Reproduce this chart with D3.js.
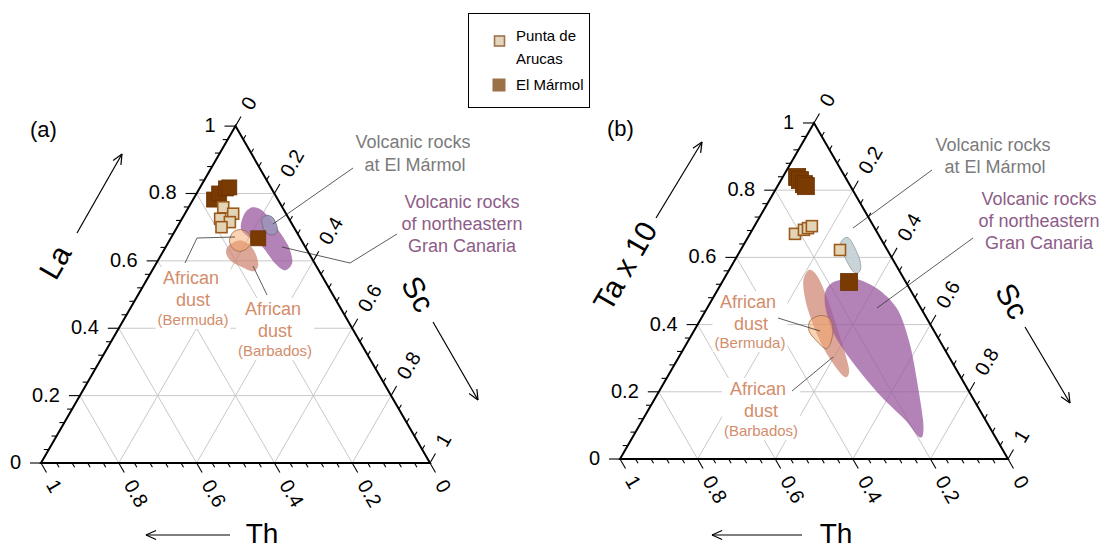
<!DOCTYPE html>
<html>
<head>
<meta charset="utf-8">
<script src="https://cdn.jsdelivr.net/npm/d3@7"></script>
<style>
  body { margin: 0; background: #fff; }
  text { font-family: "Liberation Sans", Arial, Helvetica, sans-serif; }
</style>
</head>
<body>
<svg id="chart" width="1107" height="551"></svg>
<script>
// ---------------------------------------------------------------
// Ternary diagrams: top vertex = La (a) / Ta x 10 (b),
// lower-left vertex = Th, lower-right vertex = Sc.
// Every point is written as [top, Sc]; Th = 1 - top - Sc.
// ---------------------------------------------------------------
const tickValues = [0, 0.2, 0.4, 0.6, 0.8, 1];
const tickLabels = ["0", "0.2", "0.4", "0.6", "0.8", "1"];
const minorTickValues = d3.range(0, 1.0001, 0.04);
const gridValues = [0.2, 0.4, 0.6, 0.8];

// ---- Panel (a): La – Th – Sc ----
const marmolA = [[0.782, 0.054], [0.800, 0.058], [0.815, 0.068], [0.818, 0.075], [0.667, 0.225]];
const arucasA = [[0.759, 0.089], [0.740, 0.124], [0.725, 0.098], [0.715, 0.128], [0.700, 0.114]];
const granCanariaA = [[0.696, 0.166], [0.738, 0.153], [0.759, 0.163], [0.750, 0.193], [0.705, 0.249],
                      [0.646, 0.312], [0.596, 0.348], [0.572, 0.341], [0.596, 0.301], [0.643, 0.247], [0.667, 0.204]];
const volcMarmolA = [[0.722, 0.206], [0.735, 0.212], [0.728, 0.232], [0.703, 0.255],
                     [0.683, 0.264], [0.677, 0.252], [0.690, 0.229]];
const bermudaA = [[0.693, 0.165], [0.684, 0.190], [0.661, 0.209], [0.638, 0.212],
                  [0.628, 0.197], [0.638, 0.173], [0.661, 0.154], [0.684, 0.151]];
const barbadosA = [[0.646, 0.160], [0.661, 0.181], [0.646, 0.214], [0.619, 0.243], [0.587, 0.265],
                   [0.569, 0.261], [0.584, 0.220], [0.602, 0.185], [0.625, 0.163]];

// ---- Panel (b): Ta x 10 – Th – Sc ----
const marmolB = [[0.839, 0.037], [0.830, 0.049], [0.818, 0.065], [0.812, 0.073], [0.527, 0.327]];
const arucasB = [[0.670, 0.116], [0.682, 0.133], [0.687, 0.141], [0.693, 0.148], [0.622, 0.256]];
const granCanariaB = [[0.495, 0.281], [0.524, 0.284], [0.536, 0.312], [0.533, 0.352], [0.501, 0.420],
                      [0.442, 0.496], [0.338, 0.579], [0.219, 0.658], [0.116, 0.723], [0.071, 0.745],
                      [0.068, 0.734], [0.116, 0.677], [0.190, 0.575], [0.279, 0.466], [0.367, 0.370], [0.442, 0.310]];
const volcMarmolB = [[0.644, 0.247], [0.659, 0.253], [0.650, 0.270], [0.600, 0.316],
                     [0.567, 0.337], [0.553, 0.335], [0.562, 0.317], [0.612, 0.269]];
const bermudaB = [[0.412, 0.284], [0.427, 0.302], [0.418, 0.332], [0.382, 0.358],
                  [0.341, 0.371], [0.329, 0.364], [0.356, 0.325], [0.382, 0.296]];
const barbadosB = [[0.563, 0.206], [0.542, 0.239], [0.471, 0.301], [0.367, 0.383], [0.270, 0.455],
                   [0.243, 0.461], [0.264, 0.430], [0.338, 0.352], [0.442, 0.264], [0.524, 0.210]];

const legendNames = ["Punta de Arucas", "El Mármol"];

// ---------------------------------------------------------------
const svg = d3.select("#chart");
const H = Math.sqrt(3) / 2;
const COS60 = 0.5, SIN60 = H;

const styles = {
  marmol:  { fill: "#7a3b02", stroke: "#6a3202" },
  arucas:  { fill: "#e2d4b4", stroke: "#9b5a1c" },
  granCanaria: { fill: "#9a5aa0", opacity: 0.75 },
  barbados: { fill: "#cc7e69", opacity: 0.68 },
  bermuda: { fill: "#f5a86a", opacity: 0.5, stroke: "#9a6a4a" },
  grid: "#c8c8c8"
};

function arrow(g, x1, y1, x2, y2) {
  const ang = Math.atan2(y2 - y1, x2 - x1);
  const len = 11, spread = 0.42;
  g.append("line").attr("x1", x1).attr("y1", y1).attr("x2", x2).attr("y2", y2)
    .attr("stroke", "#000").attr("stroke-width", 1.2);
  [-spread, spread].forEach(s => {
    g.append("line").attr("x1", x2).attr("y1", y2)
      .attr("x2", x2 - len * Math.cos(ang + s)).attr("y2", y2 - len * Math.sin(ang + s))
      .attr("stroke", "#000").attr("stroke-width", 1.2);
  });
}

function drawPanel(cfg) {
  const g = svg.append("g");
  const xs = d3.scaleLinear().domain([0, 1]).range([cfg.x0, cfg.x0 + cfg.side]);
  const ys = d3.scaleLinear().domain([0, 1]).range([cfg.y0, cfg.y0 - cfg.side * H]);
  const P = d => [xs(d[1] + d[0] / 2), ys(d[0])];

  // grid lines of constant top variable, Sc and Th
  const segs = [];
  gridValues.forEach(v => {
    segs.push([[v, 0], [v, 1 - v]]);
    segs.push([[0, v], [1 - v, v]]);
    segs.push([[0, 1 - v], [1 - v, 0]]);
  });
  g.append("g").selectAll("line").data(segs).join("line")
    .attr("x1", d => P(d[0])[0]).attr("y1", d => P(d[0])[1])
    .attr("x2", d => P(d[1])[0]).attr("y2", d => P(d[1])[1])
    .attr("stroke", styles.grid).attr("stroke-width", 1);

  // annotation text blocks with white backing (drawn before the marks)
  const annoLayer = g.append("g");
  cfg.annotations.forEach(an => {
    const ag = annoLayer.append("g");
    const bg = ag.append("rect").attr("fill", "#fff");
    an.lines.forEach(l => {
      ag.append("text").attr("x", l.x).attr("y", l.y)
        .attr("text-anchor", "middle").attr("font-size", l.size)
        .attr("fill", an.color).text(l.t);
    });
    if (an.backing) {
      const bb = ag.node().getBBox();
      bg.attr("x", bb.x - 2).attr("y", bb.y - 1).attr("width", bb.width + 4).attr("height", bb.height + 2);
    }
  });

  const area = d3.line().x(d => P(d)[0]).y(d => P(d)[1]).curve(d3.curveCardinalClosed.tension(0.1));

  // fields
  g.append("path").datum(cfg.barbados).attr("d", area)
    .attr("fill", styles.barbados.fill).attr("fill-opacity", styles.barbados.opacity);
  g.append("path").datum(cfg.granCanaria).attr("d", area)
    .attr("fill", styles.granCanaria.fill).attr("fill-opacity", styles.granCanaria.opacity);
  g.append("path").datum(cfg.bermuda).attr("d", area)
    .attr("fill", styles.bermuda.fill).attr("fill-opacity", styles.bermuda.opacity)
    .attr("stroke", styles.bermuda.stroke).attr("stroke-width", 0.8);
  g.append("path").datum(cfg.volcMarmol).attr("d", area)
    .attr("fill", cfg.volcFill).attr("fill-opacity", 0.9)
    .attr("stroke", cfg.volcStroke).attr("stroke-width", 0.9);

  // leader lines
  const lineGen = d3.line();
  cfg.leaders.forEach(pts => {
    g.append("path").attr("d", lineGen(pts)).attr("fill", "none")
      .attr("stroke", "#333").attr("stroke-width", 0.8);
  });

  // samples
  const ds = cfg.darkSize, ls = cfg.lightSize;
  g.append("g").selectAll("rect").data(cfg.marmol).join("rect")
    .attr("x", d => P(d)[0] - ds / 2).attr("y", d => P(d)[1] - ds / 2)
    .attr("width", ds).attr("height", ds)
    .attr("fill", styles.marmol.fill).attr("stroke", styles.marmol.stroke).attr("stroke-width", 0.8);
  g.append("g").selectAll("rect").data(cfg.arucas).join("rect")
    .attr("x", d => P(d)[0] - ls / 2).attr("y", d => P(d)[1] - ls / 2)
    .attr("width", ls).attr("height", ls)
    .attr("fill", styles.arucas.fill).attr("stroke", styles.arucas.stroke).attr("stroke-width", 1.6);

  // triangle frame
  const corners = [[1, 0], [0, 0], [0, 1]];
  g.append("path").attr("d", d3.line()(corners.map(P)) + "Z")
    .attr("fill", "none").attr("stroke", "#000").attr("stroke-width", 2).attr("stroke-linejoin", "miter");

  // ticks: left (top variable), right (Sc), bottom (Th)
  const axes = [
    { pos: v => P([v, 0]), dir: [-1, 0] },
    { pos: v => P([1 - v, v]), dir: [COS60, -SIN60] },
    { pos: v => P([0, 1 - v]), dir: [COS60, SIN60] }
  ];
  const tg = g.append("g").attr("stroke", "#000").attr("stroke-width", 1.1);
  axes.forEach(ax => {
    minorTickValues.forEach(v => {
      const major = tickValues.some(t => Math.abs(t - v) < 1e-6);
      const len = major ? 11 : 5;
      const [x, y] = ax.pos(v);
      tg.append("line").attr("x1", x).attr("y1", y)
        .attr("x2", x + ax.dir[0] * len).attr("y2", y + ax.dir[1] * len);
    });
  });

  const fs = 20;
  // left labels
  tickValues.forEach((v, i) => {
    const [x, y] = axes[0].pos(v);
    g.append("text").attr("x", x - 20).attr("y", y - 1).attr("text-anchor", "end")
      .attr("dominant-baseline", "central").attr("font-size", fs).text(tickLabels[i]);
  });
  // right labels
  tickValues.forEach((v, i) => {
    const [x, y] = axes[1].pos(v);
    const lx = x + COS60 * 21, ly = y - SIN60 * 21;
    g.append("text").attr("transform", `translate(${lx},${ly}) rotate(-60)`)
      .attr("text-anchor", "start").attr("dominant-baseline", "central")
      .attr("font-size", fs).text(tickLabels[i]);
  });
  // bottom labels
  tickValues.forEach((v, i) => {
    const [x, y] = axes[2].pos(v);
    const lx = x + COS60 * 21, ly = y + SIN60 * 21;
    g.append("text").attr("transform", `translate(${lx},${ly}) rotate(60)`)
      .attr("text-anchor", "start").attr("dominant-baseline", "central")
      .attr("font-size", fs).text(tickLabels[i]);
  });

  // axis titles and arrows
  const t = cfg.titles;
  g.append("text").attr("transform", `translate(${t.top.x},${t.top.y}) rotate(-60)`)
    .attr("text-anchor", "middle").attr("dominant-baseline", "central")
    .attr("font-size", 30).text(cfg.topName);
  arrow(g, ...t.topArrow);
  g.append("text").attr("transform", `translate(${t.sc.x},${t.sc.y}) rotate(60)`)
    .attr("text-anchor", "middle").attr("dominant-baseline", "central")
    .attr("font-size", 30).text("Sc");
  arrow(g, ...t.scArrow);
  g.append("text").attr("x", t.th.x).attr("y", t.th.y)
    .attr("text-anchor", "middle").attr("font-size", 28).text("Th");
  arrow(g, ...t.thArrow);

  g.append("text").attr("x", cfg.tag.x).attr("y", cfg.tag.y)
    .attr("font-size", 22).text(cfg.tag.t);
}

const grey = "#7b7b7b", purple = "#8d5c88", dust = "#d38d6b";

drawPanel({
  x0: 41, y0: 463, side: 389, topName: "La",
  marmol: marmolA, arucas: arucasA, granCanaria: granCanariaA, volcMarmol: volcMarmolA,
  bermuda: bermudaA, barbados: barbadosA,
  volcFill: "#9d94ba", volcStroke: "#6f6f80",
  darkSize: 15, lightSize: 11,
  leaders: [
    [[353, 168], [273, 224]],
    [[397, 234], [350, 263], [282, 247]],
    [[235, 237], [197, 238], [185, 263]],
    [[253, 266], [267, 295]]
  ],
  annotations: [
    { color: grey, lines: [{ t: "Volcanic rocks", x: 413, y: 148, size: 18 }, { t: "at El Mármol", x: 415, y: 171, size: 18 }] },
    { color: purple, lines: [{ t: "Volcanic rocks", x: 462, y: 208, size: 18 }, { t: "of northeastern", x: 462, y: 230, size: 18 }, { t: "Gran Canaria", x: 462, y: 252, size: 18 }] },
    { color: dust, backing: true, lines: [{ t: "African", x: 191, y: 284, size: 18 }, { t: "dust", x: 193, y: 306, size: 18 }, { t: "(Bermuda)", x: 193, y: 325, size: 15 }] },
    { color: dust, backing: true, lines: [{ t: "African", x: 273, y: 315, size: 18 }, { t: "dust", x: 275, y: 337, size: 18 }, { t: "(Barbados)", x: 275, y: 356, size: 15 }] }
  ],
  titles: {
    top: { x: 55, y: 262 }, topArrow: [77, 233, 122, 154],
    sc: { x: 418, y: 294 }, scArrow: [433, 322, 478, 400],
    th: { x: 262, y: 543 }, thArrow: [230, 535, 146, 535]
  },
  tag: { t: "(a)", x: 30, y: 137 }
});

drawPanel({
  x0: 620, y0: 459, side: 388, topName: "Ta x 10",
  marmol: marmolB, arucas: arucasB, granCanaria: granCanariaB, volcMarmol: volcMarmolB,
  bermuda: bermudaB, barbados: barbadosB,
  volcFill: "#c3cfd5", volcStroke: "#98a3a9",
  darkSize: 17, lightSize: 11,
  leaders: [
    [[932, 170], [853, 228]],
    [[973, 238], [877, 308]],
    [[778, 318], [820, 331]],
    [[792, 391], [833, 357]]
  ],
  annotations: [
    { color: grey, lines: [{ t: "Volcanic rocks", x: 993, y: 151, size: 18 }, { t: "at El Mármol", x: 995, y: 173, size: 18 }] },
    { color: purple, lines: [{ t: "Volcanic rocks", x: 1039, y: 205, size: 18 }, { t: "of northeastern", x: 1039, y: 227, size: 18 }, { t: "Gran Canaria", x: 1039, y: 249, size: 18 }] },
    { color: dust, backing: true, lines: [{ t: "African", x: 748, y: 308, size: 18 }, { t: "dust", x: 751, y: 330, size: 18 }, { t: "(Bermuda)", x: 750, y: 348, size: 15 }] },
    { color: dust, backing: true, lines: [{ t: "African", x: 758, y: 395, size: 18 }, { t: "dust", x: 761, y: 417, size: 18 }, { t: "(Barbados)", x: 761, y: 436, size: 15 }] }
  ],
  titles: {
    top: { x: 625, y: 266 }, topArrow: [656, 218, 702, 142],
    sc: { x: 1012, y: 301 }, scArrow: [1025, 327, 1070, 403],
    th: { x: 836, y: 543 }, thArrow: [802, 535, 712, 535]
  },
  tag: { t: "(b)", x: 607, y: 136 }
});

// legend
const lg = svg.append("g");
lg.append("rect").attr("x", 468.5).attr("y", 13.5).attr("width", 121).attr("height", 94)
  .attr("fill", "#fff").attr("stroke", "#000").attr("stroke-width", 1);
lg.append("rect").attr("x", 494.5).attr("y", 36).attr("width", 10).attr("height", 10)
  .attr("fill", "#e3d5bc").attr("stroke", "#a0714b").attr("stroke-width", 1.6);
lg.append("text").attr("x", 516).attr("y", 41).attr("font-size", 15).text("Punta de");
lg.append("text").attr("x", 516).attr("y", 64).attr("font-size", 15).text("Arucas");
lg.append("rect").attr("x", 492.5).attr("y", 78.5).attr("width", 13).attr("height", 13)
  .attr("fill", "#9b7147");
lg.append("text").attr("x", 516).attr("y", 90).attr("font-size", 15).text(legendNames[1]);
</script>
</body>
</html>
